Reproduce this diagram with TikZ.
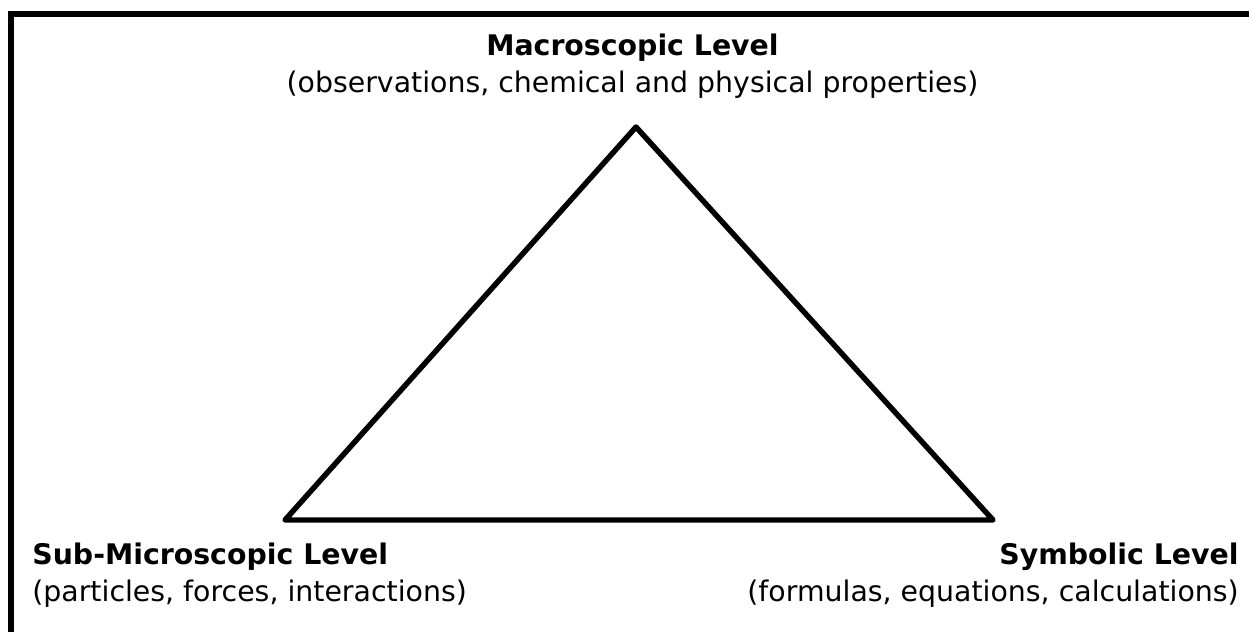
\documentclass[tikz,border=0pt]{standalone}
\usepackage{fontspec}
\setmainfont{DejaVu Sans}
\usetikzlibrary{positioning}

\begin{document}
\begin{tikzpicture}[
  x=0.02cm, y=-0.02cm,
  level/.style={inner sep=0pt, font=\fontsize{16.15}{20.6}\selectfont},
  edge/.style={draw, line width=3.1pt, line join=round, line cap=round}
]
  \useasboundingbox (0,0) rectangle (1249,632);
  % frame, cut by the page on the right and at the bottom
  \draw[line width=3pt] (11,14) rectangle (1262,650);

  % corners of the triangle
  \coordinate (top) at (636,127);
  \coordinate (left) at (285,520);
  \coordinate (right) at (993,520);
  \draw[edge] (top) -- (left) -- (right) -- cycle;

  % level labels (base = baseline of the last line)
  \node[level, align=center, anchor=base] (macro) at (632.5,92)
    {\textbf{Macroscopic Level}\\(observations, chemical and physical properties)};
  \node[level, align=left, anchor=base west] (submicro) at (32,601)
    {\textbf{Sub-Microscopic Level}\\(particles, forces, interactions)};
  \node[level, align=right, anchor=base east] (symbolic) at (1239,601)
    {\textbf{Symbolic Level}\\(formulas, equations, calculations)};
\end{tikzpicture}
\end{document}
